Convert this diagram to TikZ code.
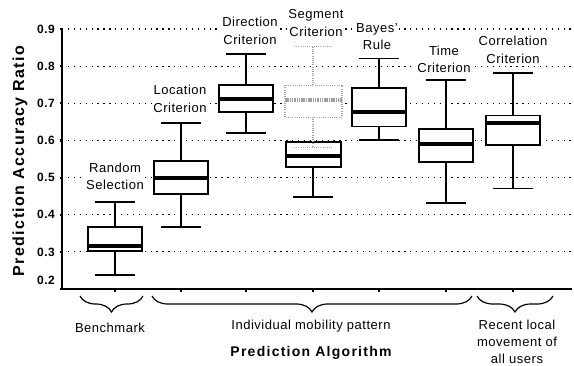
\documentclass[tikz,border=0pt]{standalone}
\usepackage{fontspec}
\setmainfont{Liberation Sans}[LetterSpace=4]
\newfontfamily\axisfont{Liberation Sans}[LetterSpace=9]
\usetikzlibrary{decorations.pathreplacing}
\newcommand\bxp[6]{% x, lo, q1, med, q3, hi
  \draw[whisk] (#1,#2) -- (#1,#3) (#1,#5) -- (#1,#6);
  \draw[whisk] (#1-20,#2) -- (#1+20,#2) (#1-20,#6) -- (#1+20,#6);
  \draw[boxl] (#1-27,#3) rectangle (#1+27,#5);
  \draw[medl] (#1-27,#4) -- (#1+27,#4);
}
\begin{document}
\begin{tikzpicture}[x=1pt,y=-1pt,
  grid/.style={line width=1.1pt, dash pattern=on 1.3pt off 4.6pt},
  axisl/.style={line width=1.4pt},
  whisk/.style={line width=1.3pt},
  boxl/.style={line width=1.4pt, fill=white},
  medl/.style={line width=4.5pt},
  gwhisk/.style={line width=1.1pt, gray!70, dash pattern=on 1pt off 1.2pt},
  gbox/.style={line width=1.1pt, gray!70, dash pattern=on 1pt off 1.2pt, fill=white},
  gmed/.style={line width=4.5pt, gray!75, dash pattern=on 1.5pt off 0.8pt},
  lbl/.style={font=\fontsize{13}{17.5}\selectfont, align=center, fill=white, inner sep=1pt},
  ticklbl/.style={font=\bfseries\fontsize{12}{12}\selectfont, anchor=east, inner sep=1pt},
  bracel/.style={decorate, decoration={brace, amplitude=16pt, mirror}, line width=1.2pt},
]
\useasboundingbox (0,0) rectangle (574,365);
% grid, axes and ticks in data coordinates
\begin{scope}[shift={(0,363.3)}, y=371.4pt]
  \foreach \v in {0.3,0.4,0.5,0.6,0.7,0.8,0.9}
    \draw[grid] (62,\v) -- (572,\v);
  \draw[axisl] (62,0.9) -- (62,0.2) -- (572,0.2);
  \foreach \v in {0.2,0.3,0.4,0.5,0.6,0.7,0.8,0.9}
    \draw[line width=2.2pt] (59.5,\v) -- (62,\v);
  \foreach \x in {115,181,246,313,379,446,513}
    \draw[line width=2.2pt] (\x,0.2) -- ++(0,-2.5pt);
  \foreach \v/\n in {0.9/t9,0.8/t8,0.7/t7,0.6/t6,0.5/t5,0.4/t4,0.3/t3}
    \node[ticklbl] (\n) at (56,\v) {\v};
  \node[ticklbl] (t2) at (56,0.223) {0.2};
\end{scope}
% box labels
\node[lbl] (lRandom) at (115,176.5) {Random\\Selection};
\node[lbl] (lLocation) at (180,99) {Location\\Criterion};
\node[lbl] (lDirection) at (250,31) {Direction\\Criterion};
\node[lbl] (lSegment) at (316,23) {Segment\\Criterion};
\node[lbl] (lBayes) at (377,36.5) {Bayes'\\Rule};
\node[lbl] (lTime) at (444,59.5) {Time\\Criterion};
\node[lbl] (lCorr) at (513,50) {Correlation\\Criterion};
% box plots
\begin{scope}[shift={(0,363.3)}, y=371.4pt]
  \bxp{115}{0.238}{0.302}{0.316}{0.367}{0.434}
  \bxp{181}{0.367}{0.456}{0.499}{0.545}{0.647}
  \bxp{246}{0.620}{0.677}{0.712}{0.749}{0.833}
  \bxp{379}{0.601}{0.637}{0.677}{0.741}{0.820}
  \bxp{446}{0.432}{0.542}{0.590}{0.631}{0.763}
  \bxp{513}{0.470}{0.588}{0.647}{0.668}{0.782}
  % segment criterion: solid box
  \draw[whisk] (313,0.448) -- (313,0.529);
  \draw[whisk] (293,0.448) -- (333,0.448);
  \draw[boxl] (286,0.529) rectangle (341,0.596);
  \draw[medl] (286,0.558) -- (341,0.558);
  % segment criterion: grey dotted box
  \draw[gwhisk] (313,0.663) -- (313,0.582) (313,0.749) -- (313,0.852);
  \draw[gwhisk] (294,0.582) -- (332,0.582) (294,0.852) -- (332,0.852);
  \draw[gbox] (285,0.663) rectangle (342,0.749);
  \draw[gmed] (285,0.709) -- (342,0.709);
\end{scope}
% braces and group labels
\coordinate (b1a) at (80,296);  \coordinate (b1b) at (143,296);
\coordinate (b2a) at (152,296); \coordinate (b2b) at (472,296);
\coordinate (b3a) at (477,296); \coordinate (b3b) at (553,296);
\draw[bracel] (b1a) -- (b1b);
\draw[bracel] (b2a) -- (b2b);
\draw[bracel] (b3a) -- (b3b);
\node[lbl, fill=none] (gBench) at (110,328) {Benchmark};
\node[lbl, fill=none] (gIndiv) at (311,326) {Individual mobility pattern};
\node[lbl, fill=none, font=\fontsize{13}{17}\selectfont] (gRecent) at (517,342) {Recent local\\movement of\\all users};
% axis titles
\node[font=\axisfont\bfseries\fontsize{14}{14}\selectfont] (xlab) at (311,353) {Prediction Algorithm};
\node[rotate=90, font=\axisfont\bfseries\fontsize{16}{16}\selectfont] (ylab) at (20,161) {Prediction Accuracy Ratio};
\end{tikzpicture}
\end{document}
